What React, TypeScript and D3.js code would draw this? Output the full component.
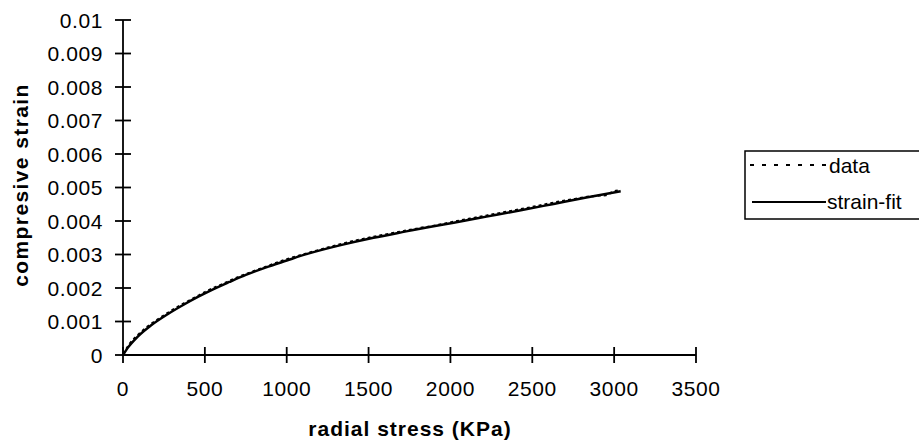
import React from "react";
import * as d3 from "d3";

const xTicks = [0, 500, 1000, 1500, 2000, 2500, 3000, 3500];
const yTicks = [0, 0.001, 0.002, 0.003, 0.004, 0.005, 0.006, 0.007, 0.008, 0.009, 0.01];
const yTickLabels = ["0", "0.001", "0.002", "0.003", "0.004", "0.005", "0.006", "0.007", "0.008", "0.009", "0.01"];

const fitStress = [0, 30, 90, 170, 270, 370, 460, 550, 650, 750, 870, 1000, 1120, 1330, 1530, 1730, 1880, 2020, 2220, 2430, 2630, 2830, 3040];
const fitStrain = [0, 0.00022, 0.00055, 0.00088, 0.00121, 0.0015, 0.00174, 0.00196, 0.00218, 0.00239, 0.00261, 0.00282, 0.00301, 0.00328, 0.0035, 0.00369, 0.00383, 0.00395, 0.00413, 0.00432, 0.00451, 0.0047, 0.00489];

const dataStress = [0, 40, 100, 160, 220, 290, 360, 440, 520, 600, 690, 780, 880, 980, 1090, 1200, 1320, 1440, 1560, 1680, 1800, 1920, 2040, 2160, 2280, 2400, 2520, 2640, 2760, 2880, 2950, 2990, 3040];
const dataStrain = [0, 0.0003, 0.00061, 0.00086, 0.00106, 0.00128, 0.00148, 0.00169, 0.0019, 0.00207, 0.00227, 0.00244, 0.00262, 0.0028, 0.00296, 0.00311, 0.00327, 0.00341, 0.00353, 0.00364, 0.00375, 0.00385, 0.00397, 0.00408, 0.00419, 0.0043, 0.00441, 0.00453, 0.00463, 0.00472, 0.00474, 0.00484, 0.0049];

const seriesNames = ["data", "strain-fit"];

const W = 919;
const H = 446;
const FONT = "'Liberation Sans', Arial, sans-serif";

export default function App() {
  const x = d3.scaleLinear().domain([0, 3500]).range([123, 696]);
  const y = d3.scaleLinear().domain([0, 0.01]).range([355, 20]);

  const line = d3
    .line<[number, number]>()
    .x((d) => x(d[0]))
    .y((d) => y(d[1]))
    .curve(d3.curveMonotoneX);

  const fitPts: [number, number][] = fitStress.map((s, i) => [s, fitStrain[i]]);
  const dataPts: [number, number][] = dataStress.map((s, i) => [s, dataStrain[i]]);

  return (
    <div style={{ position: "absolute", left: 0, top: 0 }}>
      <svg width={W} height={H} style={{ display: "block", background: "#fff" }} fontFamily={FONT}>
        <rect x={0} y={0} width={W} height={H} fill="#fff" />
        {/* axes */}
        <line x1={x(0)} x2={x(0)} y1={y(0.01)} y2={y(0)} stroke="#000" strokeWidth={1.8} />
        <line x1={x(0)} x2={x(3500)} y1={y(0)} y2={y(0)} stroke="#000" strokeWidth={1.8} />
        {yTicks.map((t, i) => (
          <g key={"y" + i}>
            <line x1={x(0) - 8} x2={x(0) + 8} y1={y(t)} y2={y(t)} stroke="#000" strokeWidth={1.8} />
            <text x={103} y={y(t)} dy="0.36em" textAnchor="end" fontSize={21} letterSpacing={0.6} fill="#000">
              {yTickLabels[i]}
            </text>
          </g>
        ))}
        {xTicks.map((t, i) => (
          <g key={"x" + i}>
            <line x1={x(t)} x2={x(t)} y1={y(0) - 8} y2={y(0) + 8} stroke="#000" strokeWidth={1.8} />
            <text x={x(t)} y={396} textAnchor="middle" fontSize={21} letterSpacing={0.6} fill="#000">
              {t}
            </text>
          </g>
        ))}
        <text x={410} y={436} textAnchor="middle" fontSize={21} letterSpacing={1} fontWeight="bold" fill="#000">
          radial stress (KPa)
        </text>
        <text
          transform={`translate(28,185) rotate(-90)`}
          textAnchor="middle"
          fontSize={21}
          letterSpacing={1.4}
          fontWeight="bold"
          fill="#000"
        >
          compresive strain
        </text>
        {/* series */}
        <path d={line(fitPts) || ""} fill="none" stroke="#000" strokeWidth={2.5} />
        <path
          d={line(dataPts) || ""}
          fill="none"
          stroke="#000"
          strokeWidth={2}
          strokeDasharray="3,3"
          transform="translate(0,-1)"
        />
        {/* legend */}
        <rect x={745} y={151} width={200} height={68} fill="#fff" stroke="#000" strokeWidth={1.5} />
        <line x1={750} x2={827} y1={165} y2={165} stroke="#000" strokeWidth={2} strokeDasharray="4,8" />
        <text x={829} y={173} fontSize={21} fill="#000">
          {seriesNames[0]}
        </text>
        <line x1={752} x2={826} y1={202} y2={202} stroke="#000" strokeWidth={1.8} />
        <text x={827} y={209} fontSize={21} fill="#000">
          {seriesNames[1]}
        </text>
      </svg>
    </div>
  );
}
